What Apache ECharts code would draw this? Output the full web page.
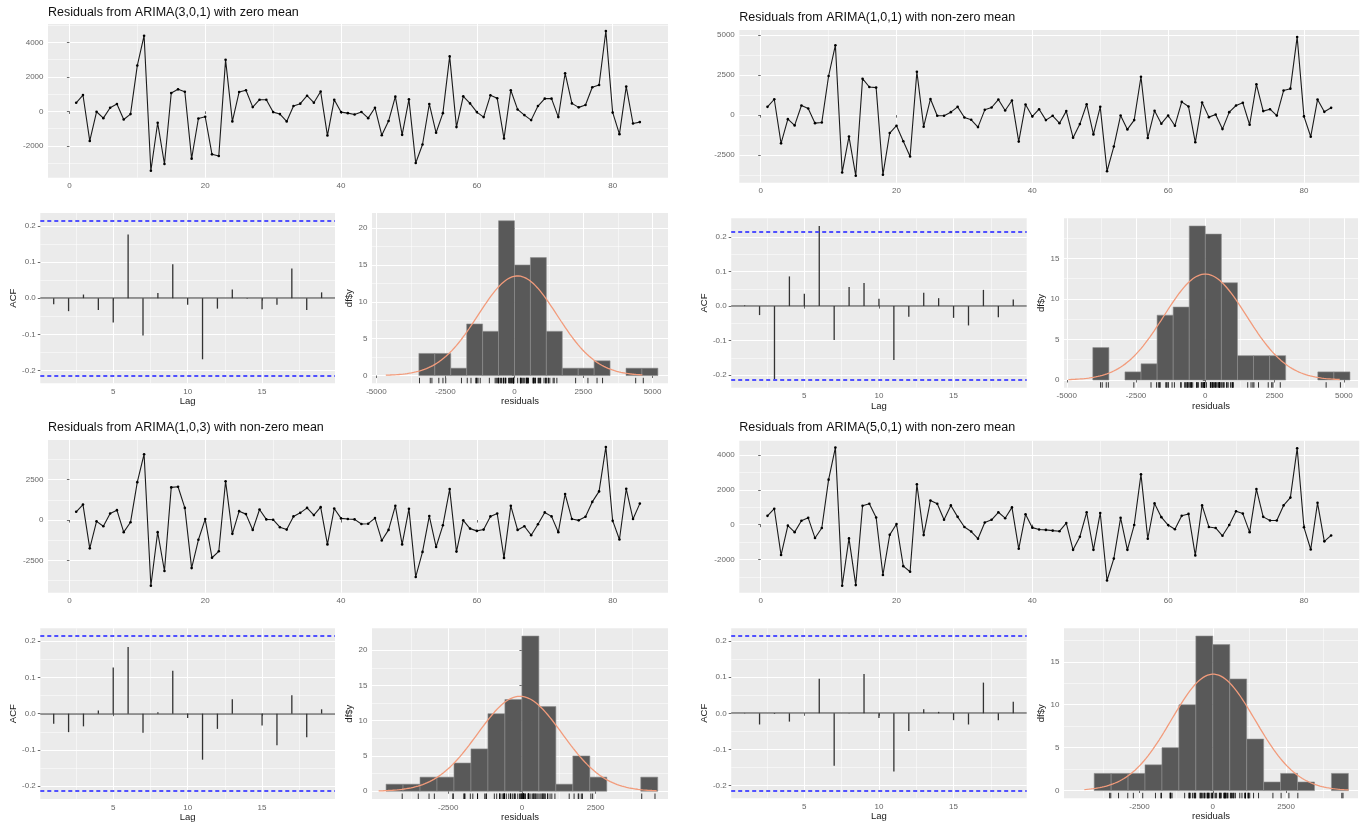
<!DOCTYPE html>
<html>
<head>
<meta charset="utf-8">
<title>ARIMA residual checks</title>
<script src="https://cdn.jsdelivr.net/npm/echarts@6/dist/echarts.min.js"></script>
<style>
  html, body { margin: 0; padding: 0; background: #fff; }
  #main { width: 1366px; height: 827px; }
</style>
</head>
<body>
<div id="main"></div>
<script>
// residuals, t = 1..84
const residA = [500, 950, -1710, -20, -390, 215, 430, -470, -155, 2660,
  4390, -3440, -660, -3050, 1070, 1280, 1140, -2740, -410, -310,
  -2490, -2590, 2990, -580, 1130, 1225, 250, 680, 680, -40,
  -155, -580, 310, 450, 910, 505, 1150, -1400, 680, -40,
  -100, -175, -30, -390, 215, -1380, -560, 855, -1360, 700,
  -2990, -1920, 430, -1240, -100, 3190, -910, 875, 465, -40,
  -330, 935, 760, -1575, 1225, 115, -215, -505, 310, 740,
  740, -330, 2215, 465, 235, 370, 1400, 1535, 4665, -60,
  -1320, 1440, -700, -620];
const residB = [515, 990, -1760, -250, -640, 600, 410, -500, -455, 2440,
  4360, -3575, -1340, -3780, 2270, 1755, 1715, -3720, -1115, -660,
  -1630, -2580, 2705, -720, 1010, -40, -40, 185, 515, -145,
  -290, -745, 330, 475, 970, 290, 910, -1650, 660, -80,
  370, -310, -40, -500, 250, -1405, -560, 680, -1200, 515,
  -3500, -1960, -20, -890, -310, 2395, -1425, 270, -535, -20,
  -660, 825, 535, -1695, 785, -125, 40, -870, 185, 600,
  765, -600, 1920, 250, 370, -30, 1530, 1650, 4875, -80,
  -1345, 970, 205, 455];
const residC = [510, 955, -1750, -80, -385, 405, 610, -750, -140, 2340,
  4065, -4060, -750, -3150, 2015, 2055, 750, -2970, -1220, 60,
  -2330, -1930, 2400, -855, 550, 365, -610, 650, 40, 20,
  -445, -590, 225, 445, 750, 305, 795, -1505, 710, 100,
  60, 40, -245, -225, 120, -1260, -610, 875, -1505, 690,
  -3515, -1970, 245, -1665, -325, 1910, -1950, -20, -530, -670,
  -590, 225, 405, -2340, 875, -610, -385, -935, -265, 470,
  225, -750, 1605, 60, -20, 205, 1120, 1770, 4515, -40,
  -1200, 1930, 60, 1015];
const residD = [510, 920, -1750, -55, -430, 225, 395, -770, -190, 2595,
  4440, -3520, -790, -3480, 1090, 1205, 415, -2900, -585, 40,
  -2390, -2710, 2330, -600, 1390, 1205, 280, 1110, 450, -130,
  -395, -810, 130, 280, 715, 375, 995, -1390, 600, -170,
  -280, -300, -340, -375, 95, -1450, -695, 715, -1450, 675,
  -3215, -1955, 395, -1450, -20, 2900, -810, 1225, 435, -20,
  -265, 510, 620, -1770, 1110, -130, -190, -640, -20, 770,
  640, -430, 2050, 450, 245, 245, 1110, 1560, 4400, -150,
  -1430, 1260, -960, -620];

// autocorrelations, lags 1..19
const lags = [1, 2, 3, 4, 5, 6, 7, 8, 9, 10, 11, 12, 13, 14, 15, 16, 17, 18, 19];
const acfA = [-0.017, -0.036, 0.010, -0.033, -0.067, 0.176, -0.103, 0.014, 0.094, -0.018,
  -0.169, -0.029, 0.024, -0.002, -0.031, -0.018, 0.082, -0.033, 0.016];
const acfB = [0.002, -0.026, -0.213, 0.086, 0.036, 0.232, -0.098, 0.055, 0.067, 0.021,
  -0.156, -0.031, 0.039, 0.023, -0.034, -0.056, 0.047, -0.032, 0.019];
const acfC = [-0.028, -0.051, -0.035, 0.009, 0.127, 0.184, -0.053, 0.004, 0.118, -0.012,
  -0.127, -0.042, 0.040, 0.000, -0.033, -0.087, 0.051, -0.065, 0.012];
const acfD = [0.001, -0.031, -0.002, -0.023, 0.000, 0.096, -0.145, 0.001, 0.109, -0.013,
  -0.161, -0.049, 0.011, 0.004, -0.019, -0.031, 0.085, -0.019, 0.032];
const ciLimit = 0.214;
const ciBounds = [ciLimit, -ciLimit];

// histogram bins: first edge, bin width, counts
const binStartA = -3462, binWidthA = 577;
const countsA = [3, 3, 1, 7, 6, 21, 15, 16, 6, 1, 1, 2, 0, 1, 1];
const binStartB = -4060, binWidthB = 580;
const countsB = [4, 0, 1, 2, 8, 9, 19, 18, 12, 3, 3, 3, 0, 0, 1, 1];
const binStartC = -4608, binWidthC = 576;
const countsC = [1, 1, 2, 2, 4, 6, 11, 13, 22, 12, 1, 5, 2, 0, 0, 2];
const binStartD = -4046, binWidthD = 578;
const countsD = [2, 2, 2, 3, 5, 10, 18, 17, 13, 6, 1, 2, 1, 0, 2];

// x span of the normal curves and of the histogram axes
const curveSpanA = [-4660, 4630], histSpanA = [-5160, 5560];
const curveSpanB = [-4940, 4850], histSpanB = [-5100, 5510];
const curveSpanC = [-4860, 4570], histSpanC = [-5085, 4956];
const curveSpanD = [-4380, 4630], histSpanD = [-5075, 4952];

// tick labels
const timeTicks = [0, 20, 40, 60, 80], timeMinor = [10, 30, 50, 70];
const resTicksA = [-2000, 0, 2000, 4000], resMinorA = [-3000, -1000, 1000, 3000, 5000];
const resTicksB = [-2500, 0, 2500, 5000], resMinorB = [-3750, -1250, 1250, 3750];
const resTicksC = [-2500, 0, 2500], resMinorC = [-3750, -1250, 1250, 3750];
const resTicksD = [-2000, 0, 2000, 4000], resMinorD = [-3000, -1000, 1000, 3000];
const lagTicks = [5, 10, 15], lagMinor = [2.5, 7.5, 12.5, 17.5];
const acfTicks = [-0.2, -0.1, 0, 0.1, 0.2], acfMinor = [-0.15, -0.05, 0.05, 0.15];
const histXTicksWide = [-5000, -2500, 0, 2500, 5000], histXTicksNarrow = [-2500, 0, 2500];
const histXMinor = [-3750, -1250, 1250, 3750];
const countTicksHigh = [0, 5, 10, 15, 20], countTicksLow = [0, 5, 10, 15];
const countMinor = [2.5, 7.5, 12.5, 17.5];

const titles = [
  'Residuals from ARIMA(3,0,1) with zero mean',
  'Residuals from ARIMA(1,0,1) with non-zero mean',
  'Residuals from ARIMA(1,0,3) with non-zero mean',
  'Residuals from ARIMA(5,0,1) with non-zero mean'
];

const FONT = 'Liberation Sans, Arial, Helvetica, sans-serif';
const BG = '#EBEBEB';

// layout of the four screenshots: [left, top, right, bottom]
const panels = [
  { resid: residA, acf: acfA, counts: countsA, binStart: binStartA, binWidth: binWidthA,
    curve: curveSpanA, hist: histSpanA, resTicks: resTicksA, resMinor: resMinorA,
    histXTicks: histXTicksWide, countTicks: countTicksHigh,
    title: [48, 5.5], line: [48, 24, 668, 177.7], acfBox: [40.3, 213, 335, 383.3], histBox: [372, 213, 668, 383.3] },
  { resid: residB, acf: acfB, counts: countsB, binStart: binStartB, binWidth: binWidthB,
    curve: curveSpanB, hist: histSpanB, resTicks: resTicksB, resMinor: resMinorB,
    histXTicks: histXTicksWide, countTicks: countTicksLow,
    title: [739.3, 11], line: [739.3, 30, 1359.3, 182.7], acfBox: [731.2, 218.3, 1026.7, 387.7], histBox: [1064, 218.3, 1358, 387.7] },
  { resid: residC, acf: acfC, counts: countsC, binStart: binStartC, binWidth: binWidthC,
    curve: curveSpanC, hist: histSpanC, resTicks: resTicksC, resMinor: resMinorC,
    histXTicks: histXTicksNarrow, countTicks: countTicksHigh,
    title: [48, 421], line: [48, 440, 668, 592.7], acfBox: [40.3, 628.3, 335, 799], histBox: [372, 628.3, 668, 799] },
  { resid: residD, acf: acfD, counts: countsD, binStart: binStartD, binWidth: binWidthD,
    curve: curveSpanD, hist: histSpanD, resTicks: resTicksD, resMinor: resMinorD,
    histXTicks: histXTicksNarrow, countTicks: countTicksLow,
    title: [739.3, 421], line: [739.3, 440.7, 1359.3, 592.7], acfBox: [731.2, 628.3, 1026.7, 798.3], histBox: [1064, 628.3, 1358, 798.3] }
];

const grid = [], xAxis = [], yAxis = [], series = [], title = [];

function expand(lo, hi) {
  const pad = (hi - lo) * 0.05;
  return [lo - pad, hi + pad];
}

function makeAxes(list, gi, spec, isX) {
  const major = {
    type: 'value', gridIndex: gi, min: spec.range[0], max: spec.range[1],
    position: isX ? 'bottom' : 'left',
    axisLine: { show: false },
    axisTick: { show: true, length: 2.5, customValues: spec.ticks, lineStyle: { color: '#444', width: 0.8 } },
    axisLabel: { customValues: spec.ticks, fontSize: 8, color: '#666', margin: 4.5, fontFamily: FONT,
      formatter: spec.fmt || (v => String(v)) },
    splitLine: { show: true, lineStyle: { color: '#fff', width: 1.1 } }
  };
  if (spec.name) {
    Object.assign(major, {
      name: spec.name, nameLocation: 'middle', nameGap: spec.nameGap,
      nameRotate: isX ? 0 : 90,
      nameTextStyle: { fontSize: 9.5, color: '#1a1a1a', fontFamily: FONT }
    });
  }
  const minor = {
    type: 'value', gridIndex: gi, min: spec.range[0], max: spec.range[1],
    position: isX ? 'top' : 'right',
    axisLine: { show: false },
    axisTick: { show: false, customValues: spec.minor },
    axisLabel: { show: false, customValues: spec.minor },
    splitLine: { show: true, lineStyle: { color: '#fff', width: 0.5 } }
  };
  list.push(major, minor);
}

function addGrid(box, xSpec, ySpec) {
  const gi = grid.length;
  grid.push({
    left: box[0], top: box[1], width: box[2] - box[0], height: box[3] - box[1],
    show: true, backgroundColor: BG, borderWidth: 0, containLabel: false
  });
  makeAxes(xAxis, gi, xSpec, true);
  makeAxes(yAxis, gi, ySpec, false);
  return 2 * gi;
}

// horizontal line across the whole panel at a data value
function hLine(stroke, width, dash) {
  return (params, api) => {
    const y = Math.round(api.coord([api.value(0), api.value(1)])[1]);
    const cs = params.coordSys;
    return { type: 'line', shape: { x1: cs.x, y1: y, x2: cs.x + cs.width, y2: y },
      style: { stroke, lineWidth: width, lineDash: dash } };
  };
}

panels.forEach((p, k) => {
  title.push({
    text: titles[k], left: p.title[0], top: p.title[1], padding: 0,
    textStyle: { fontSize: 12.5, fontWeight: 'normal', color: '#111', fontFamily: FONT, lineHeight: 14 }
  });

  // time plot of residuals
  const n = p.resid.length;
  let ax = addGrid(p.line,
    { range: expand(1, n), ticks: timeTicks, minor: timeMinor },
    { range: expand(Math.min(...p.resid), Math.max(...p.resid)), ticks: p.resTicks, minor: p.resMinor });
  series.push({
    type: 'line', xAxisIndex: ax, yAxisIndex: ax,
    data: p.resid.map((v, i) => [i + 1, v]),
    symbol: 'circle', symbolSize: 2.6, showSymbol: true,
    lineStyle: { color: '#1a1a1a', width: 1.1 },
    itemStyle: { color: '#000' }
  });

  // ACF
  ax = addGrid(p.acfBox,
    { range: expand(lags[0], lags[lags.length - 1]), ticks: lagTicks, minor: lagMinor, name: 'Lag', nameGap: 12.5 },
    { range: expand(Math.min(...p.acf, -ciLimit), Math.max(...p.acf, ciLimit)), ticks: acfTicks, minor: acfMinor,
      fmt: v => v.toFixed(1), name: 'ACF', nameGap: 19 });
  series.push({
    type: 'custom', xAxisIndex: ax, yAxisIndex: ax, silent: true, z: 2,
    data: [[lags[0], 0]], encode: { x: 0, y: 1 },
    renderItem: hLine('#333', 1, null)
  });
  series.push({
    type: 'custom', xAxisIndex: ax, yAxisIndex: ax,
    data: lags.map((l, i) => [l, p.acf[i]]),
    encode: { x: 0, y: 1 },
    renderItem: (params, api) => {
      const a = api.coord([api.value(0), 0]);
      const b = api.coord([api.value(0), api.value(1)]);
      return { type: 'line', shape: { x1: a[0], y1: a[1], x2: b[0], y2: b[1] },
        style: { stroke: '#333', lineWidth: 1.3 } };
    }
  });
  series.push({
    type: 'custom', xAxisIndex: ax, yAxisIndex: ax, silent: true, z: 3,
    data: ciBounds.map(v => [lags[0], v]), encode: { x: 0, y: 1 },
    renderItem: hLine('#5050ff', 2, [4, 3])
  });

  // histogram with normal curve and rug
  const maxCount = Math.max(...p.counts);
  ax = addGrid(p.histBox,
    { range: p.hist, ticks: p.histXTicks, minor: histXMinor, name: 'residuals', nameGap: 12.5 },
    { range: expand(0, maxCount), ticks: p.countTicks, minor: countMinor, name: 'df$y', nameGap: 16 });
  series.push({
    type: 'custom', xAxisIndex: ax, yAxisIndex: ax,
    data: p.counts.map((c, i) => [p.binStart + i * p.binWidth, p.binStart + (i + 1) * p.binWidth, c]),
    encode: { x: [0, 1], y: 2 },
    renderItem: (params, api) => {
      if (!api.value(2)) return null;
      const a = api.coord([api.value(0), api.value(2)]);
      const b = api.coord([api.value(1), 0]);
      return { type: 'rect', shape: { x: a[0], y: a[1], width: b[0] - a[0], height: b[1] - a[1] },
        style: { fill: '#595959', stroke: '#8e8e8e', lineWidth: 0.6 } };
    }
  });
  // normal density with the residuals' mean and sd, scaled to counts
  const mean = p.resid.reduce((s, v) => s + v, 0) / n;
  const sd = Math.sqrt(p.resid.reduce((s, v) => s + (v - mean) * (v - mean), 0) / (n - 1));
  const scale = n * p.binWidth / (sd * Math.sqrt(2 * Math.PI));
  const curve = [];
  for (let i = 0; i <= 120; i++) {
    const x = p.curve[0] + (p.curve[1] - p.curve[0]) * i / 120;
    curve.push([x, scale * Math.exp(-0.5 * Math.pow((x - mean) / sd, 2))]);
  }
  series.push({
    type: 'line', xAxisIndex: ax, yAxisIndex: ax, data: curve,
    showSymbol: false, lineStyle: { color: '#F29B7B', width: 1.3 }, z: 4
  });
  series.push({
    type: 'custom', xAxisIndex: ax, yAxisIndex: ax,
    data: p.resid.map(v => [v, 0]),
    encode: { x: 0, y: 1 },
    renderItem: (params, api) => {
      const x = api.coord([api.value(0), 0])[0];
      const cs = params.coordSys;
      const yb = cs.y + cs.height;
      return { type: 'line', shape: { x1: x, y1: yb, x2: x, y2: yb - 5.5 },
        style: { stroke: '#000', lineWidth: 0.8 } };
    }
  });
});

const chart = echarts.init(document.getElementById('main'), null, { renderer: 'canvas' });
chart.setOption({
  animation: false,
  backgroundColor: '#fff',
  textStyle: { fontFamily: FONT },
  title, grid, xAxis, yAxis, series
});
</script>
</body>
</html>
